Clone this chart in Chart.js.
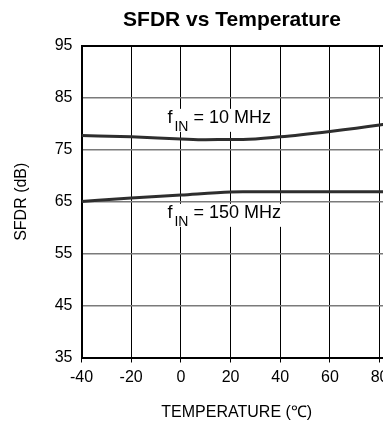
<!DOCTYPE html>
<html>
<head>
<meta charset="utf-8">
<script src="https://cdn.jsdelivr.net/npm/chart.js@4/dist/chart.umd.min.js"></script>
<style>
  html, body { margin: 0; padding: 0; background: #fff; overflow: hidden; width: 383px; height: 422px; }
  canvas { display: block; }
</style>
</head>
<body>
<canvas id="c" width="464" height="422"></canvas>
<script>
// ---- data ----
const temps10 = [-40, -20, 0, 10, 20, 25, 40, 60, 80, 82];
const sfdr10  = [77.75, 77.5, 77.1, 76.95, 77.0, 77.0, 77.5, 78.55, 79.8, 79.95];
const temps150 = [-40, -20, 0, 20, 25, 40, 60, 80, 82];
const sfdr150  = [65.05, 65.7, 66.3, 66.9, 66.95, 66.95, 66.95, 66.95, 66.95];
const xTicks = [-40, -20, 0, 20, 40, 60, 80];
const yTicks = [35, 45, 55, 65, 75, 85, 95];
const labelTexts = [
  { main: 'f', sub: 'IN', rest: ' = 10 MHz', x: -5.4, y: 80.2 },
  { main: 'f', sub: 'IN', rest: ' = 150 MHz', x: -5.4, y: 61.9 }
];
const titleText = 'SFDR vs Temperature';
const xTitle = 'TEMPERATURE (\u2103)';
const yTitle = 'SFDR (dB)';

const FONT = '"Liberation Sans", Arial, Helvetica, sans-serif';

const toXY = (xs, ys) => xs.map((x, i) => ({ x: x, y: ys[i] }));

const labelPlugin = {
  id: 'curveLabels',
  afterDraw(chart) {
    const ctx = chart.ctx;
    const xs = chart.scales.x, ys = chart.scales.y;
    ctx.save();
    labelTexts.forEach(l => {
      const px = xs.getPixelForValue(l.x);
      const py = ys.getPixelForValue(l.y);
      ctx.font = '18px ' + FONT;
      const wf = ctx.measureText(l.main).width;
      const wr = ctx.measureText(l.rest).width;
      ctx.font = '14px ' + FONT;
      const ws = ctx.measureText(l.sub).width;
      const total = wf + 2 + ws + wr;
      ctx.fillStyle = '#fff';
      ctx.fillRect(px - 1, py - 14, total + 2, 23);
      ctx.fillStyle = '#000';
      ctx.textBaseline = 'alphabetic';
      ctx.textAlign = 'left';
      ctx.font = '18px ' + FONT;
      ctx.fillText(l.main, px, py);
      ctx.font = '14px ' + FONT;
      ctx.fillText(l.sub, px + wf + 2, py + 8);
      ctx.font = '18px ' + FONT;
      ctx.fillText(l.rest, px + wf + 2 + ws, py);
    });
    ctx.restore();
  }
};

new Chart(document.getElementById('c'), {
  type: 'scatter',
  data: {
    datasets: [
      { label: '10 MHz', data: toXY(temps10, sfdr10), showLine: true,
        borderColor: '#2e2e2e', borderWidth: 3, pointRadius: 0, cubicInterpolationMode: 'monotone' },
      { label: '150 MHz', data: toXY(temps150, sfdr150), showLine: true,
        borderColor: '#2e2e2e', borderWidth: 3, pointRadius: 0, cubicInterpolationMode: 'monotone' }
    ]
  },
  options: {
    responsive: false,
    animation: false,
    devicePixelRatio: 1,
    layout: { padding: 0 },
    plugins: {
      legend: { display: false },
      tooltip: { enabled: false },
      title: {
        display: true, text: titleText, color: '#000',
        font: { family: FONT, size: 21, weight: 'bold' },
        padding: { top: 8, bottom: 12.8 }
      }
    },
    scales: {
      x: {
        type: 'linear', min: -40, max: 85,
        afterBuildTicks: s => { s.ticks = xTicks.map(v => ({ value: v })); },
        afterFit: s => { s.height = 64.5; },
        border: { display: true, color: '#000', width: 2 },
        grid: { color: '#000', lineWidth: 1, drawTicks: true, tickLength: 5, tickColor: '#000', tickWidth: 1 },
        ticks: { color: '#000', font: { family: FONT, size: 16 }, padding: 5, maxRotation: 0 },
        title: { display: true, text: xTitle, color: '#000', font: { family: FONT, size: 16 }, padding: { top: 3, bottom: 0 } }
      },
      y: {
        type: 'linear', position: 'left', min: 35, max: 95,
        afterBuildTicks: s => { s.ticks = yTicks.map(v => ({ value: v })); },
        afterFit: s => { s.width = 81.5; },
        border: { display: true, color: '#000', width: 2 },
        grid: {
          drawTicks: false,
          color: c => (c.tick && c.tick.value === 95) ? '#000' : '#7a7a7a',
          lineWidth: c => (c.tick && c.tick.value === 95) ? 2 : 1.5
        },
        ticks: { color: '#000', font: { family: FONT, size: 16 }, padding: 9 },
        title: { display: true, text: yTitle, color: '#000', font: { family: FONT, size: 16 }, padding: { top: 12, bottom: 0 } }
      },
      yRight: {
        type: 'linear', position: 'right', min: 35, max: 95,
        afterFit: s => { s.width = 72; },
        border: { display: false },
        grid: { display: false, drawTicks: false },
        ticks: { display: false }
      }
    }
  },
  plugins: [labelPlugin]
});
</script>
</body>
</html>
